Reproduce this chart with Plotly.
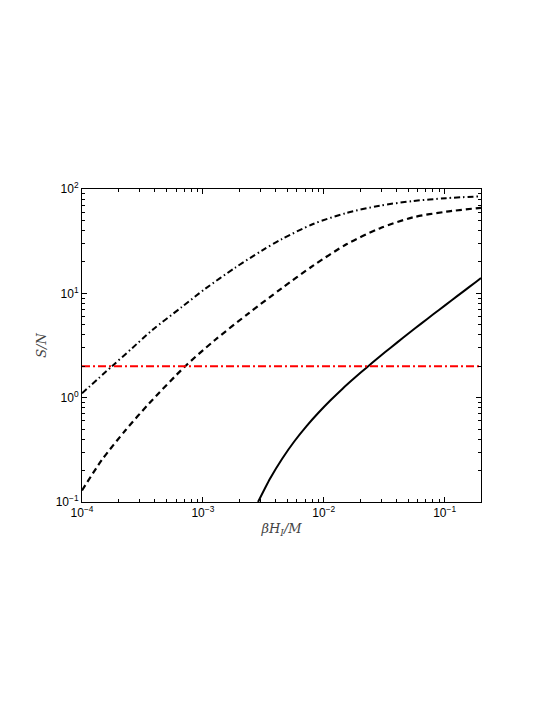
import plotly.graph_objects as go

# --- data ---
solid_x = [2.86e-3, 3.60e-3, 4.53e-3, 5.70e-3, 7.18e-3, 9.04e-3, 0.01138, 0.01432, 0.01803, 0.0227,
           0.02858, 0.03598, 0.04529, 0.05702, 0.07178, 0.09037, 0.1138, 0.1432, 0.1803, 0.2]
solid_y = [0.1, 0.168, 0.260, 0.380, 0.531, 0.716, 0.943, 1.22, 1.55, 1.95,
           2.44, 3.03, 3.75, 4.62, 5.68, 6.97, 8.54, 10.45, 12.78, 13.99]

dashed_x = [1e-4, 1.46e-4, 2.28e-4, 3.56e-4, 7.14e-4, 1.26e-3, 2.39e-3, 4.5e-3, 8.17e-3, 0.0154, 0.029, 0.0547, 0.103, 0.2]
dashed_y = [0.129, 0.253, 0.484, 0.87, 2.0, 3.57, 6.43, 11.2, 18.4, 29.5, 41.9, 53.5, 60.6, 66.0]

dashdot_x = [1e-4, 1.77e-4, 2.59e-4, 3.79e-4, 6.7e-4, 1.04e-3, 1.85e-3, 3.08e-3, 4.5e-3, 8.17e-3, 0.0154, 0.029, 0.0547, 0.103, 0.2]
dashdot_y = [1.10, 2.0, 2.97, 4.42, 7.4, 11.0, 17.6, 25.7, 33.1, 46.2, 58.9, 69.2, 76.7, 81.7, 85.1]

threshold_x = [1e-4, 0.2]
threshold_y = [2.0, 2.0]

x_tickvals = [1e-4, 1e-3, 1e-2, 1e-1]
x_ticktext = ["10<sup>−4</sup>", "10<sup>−3</sup>", "10<sup>−2</sup>", "10<sup>−1</sup>"]
y_tickvals = [0.1, 1, 10, 100]
y_ticktext = ["10<sup>−1</sup>", "10<sup>0</sup>", "10<sup>1</sup>", "10<sup>2</sup>"]

x_minor = [m * 10 ** e for e in (-4, -3, -2, -1) for m in range(2, 10) if m * 10 ** e <= 0.2]
y_minor = [m * 10 ** e for e in (-1, 0, 1) for m in range(2, 10)]

fig = go.Figure()
fig.add_trace(go.Scatter(x=solid_x, y=solid_y, mode="lines",
                         line=dict(color="black", width=2, shape="spline", smoothing=0.6)))
fig.add_trace(go.Scatter(x=dashed_x, y=dashed_y, mode="lines",
                         line=dict(color="black", width=2.2, dash="6px,4px", shape="spline", smoothing=0.8)))
fig.add_trace(go.Scatter(x=dashdot_x, y=dashdot_y, mode="lines",
                         line=dict(color="black", width=2, dash="6px,3px,1.5px,3px", shape="spline", smoothing=0.8)))
fig.add_trace(go.Scatter(x=threshold_x, y=threshold_y, mode="lines",
                         line=dict(color="red", width=2, dash="8px,3px,2px,3px")))

font = dict(family="Liberation Sans, Arial, sans-serif", size=12, color="black")
title_font = dict(family="DejaVu Serif, serif", size=13, color="#444")

fig.update_layout(
    width=537, height=697,
    margin=dict(l=74, r=64, t=181, b=203),
    paper_bgcolor="white", plot_bgcolor="white",
    showlegend=False,
    font=font,
    xaxis=dict(
        type="log", range=[-4, 0.30103 - 1], tickmode="array",
        tickvals=x_tickvals, ticktext=x_ticktext,
        ticks="inside", ticklen=5, tickcolor="black",
        showline=True, linecolor="black", linewidth=1, mirror="ticks",
        showgrid=False, zeroline=False,
        minor=dict(tickmode="array", tickvals=x_minor, ticks="inside", ticklen=3,
                   tickcolor="black", showgrid=False),
        title=dict(text="<i>βH</i><sub><i>I</i></sub><i>/M</i>", font=title_font, standoff=4),
        tickfont=font,
    ),
    yaxis=dict(
        type="log", range=[-1, 2], tickmode="array",
        tickvals=y_tickvals, ticktext=y_ticktext,
        ticks="inside", ticklen=5, tickcolor="black",
        showline=True, linecolor="black", linewidth=1, mirror="ticks",
        showgrid=False, zeroline=False,
        minor=dict(tickmode="array", tickvals=y_minor, ticks="inside", ticklen=3,
                   tickcolor="black", showgrid=False),
        title=dict(text="<i>S/N</i>", font=title_font, standoff=6),
        tickfont=font,
    ),
)

fig.write_html("out.html")
